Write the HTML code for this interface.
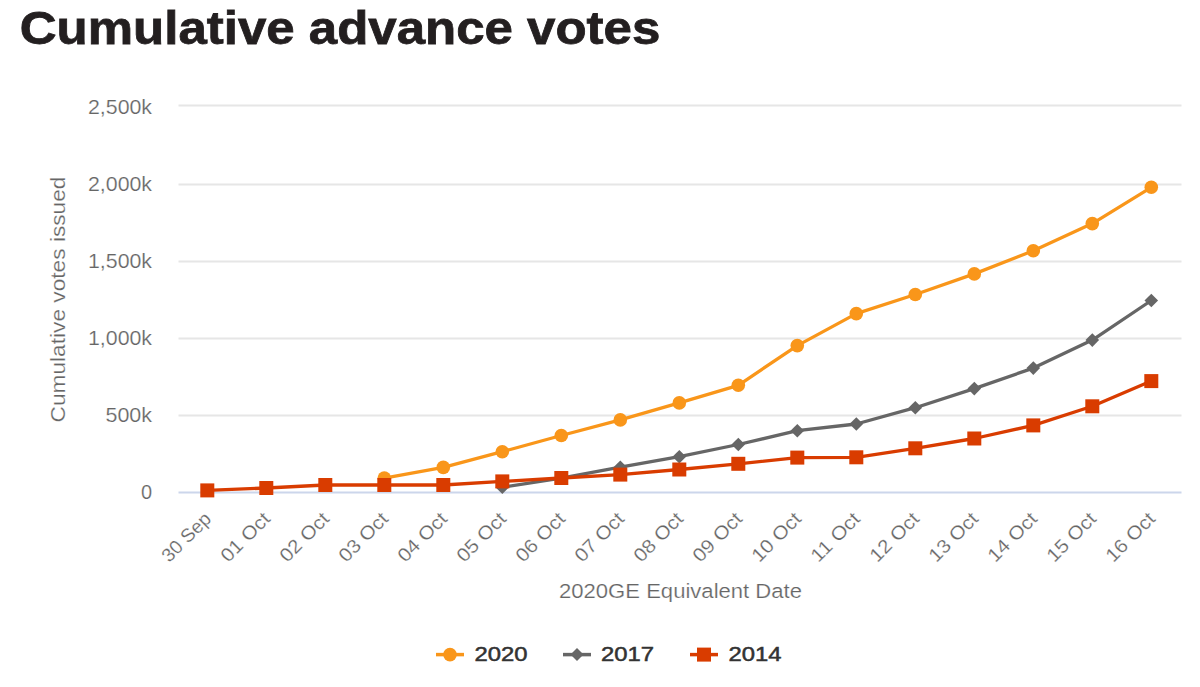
<!DOCTYPE html>
<html><head><meta charset="utf-8"><style>
html,body{margin:0;padding:0;background:#fff;width:1200px;height:687px;overflow:hidden}
svg{position:absolute;left:0;top:0;font-family:"Liberation Sans",sans-serif}
.title{font-size:47px;font-weight:bold;fill:#231f20;stroke:#231f20;stroke-width:0.8px}
.yl{font-size:20px;fill:#666;stroke:#fff;stroke-width:0.2px}
.xl{font-size:19px;fill:#666;stroke:#fff;stroke-width:0.2px}
.at{font-size:20px;fill:#666;stroke:#fff;stroke-width:0.2px}
.lg{font-size:20px;fill:#333;stroke:#333;stroke-width:0.5px}
</style></head><body>
<svg width="1200" height="687" viewBox="0 0 1200 687">
<text x="19.8" y="44" class="title" textLength="640.5" lengthAdjust="spacingAndGlyphs">Cumulative advance votes</text>
<path d="M178.5 105.5H1181.5" stroke="#e6e6e6" stroke-width="2"/>
<path d="M178.5 184.5H1181.5" stroke="#e6e6e6" stroke-width="2"/>
<path d="M178.5 261.5H1181.5" stroke="#e6e6e6" stroke-width="2"/>
<path d="M178.5 338.5H1181.5" stroke="#e6e6e6" stroke-width="2"/>
<path d="M178.5 415.5H1181.5" stroke="#e6e6e6" stroke-width="2"/>
<path d="M178.5 492.5H1181.5" stroke="#ccd6eb" stroke-width="2"/>
<text x="152" y="114" text-anchor="end" class="yl" textLength="64" lengthAdjust="spacingAndGlyphs">2,500k</text>
<text x="152" y="191" text-anchor="end" class="yl" textLength="64" lengthAdjust="spacingAndGlyphs">2,000k</text>
<text x="152" y="268" text-anchor="end" class="yl" textLength="64" lengthAdjust="spacingAndGlyphs">1,500k</text>
<text x="152" y="345" text-anchor="end" class="yl" textLength="64" lengthAdjust="spacingAndGlyphs">1,000k</text>
<text x="152" y="422" text-anchor="end" class="yl" textLength="46.5" lengthAdjust="spacingAndGlyphs">500k</text>
<text x="152" y="499" text-anchor="end" class="yl">0</text>
<text transform="translate(64.5 299.5) rotate(-90)" text-anchor="middle" class="at" textLength="246" lengthAdjust="spacingAndGlyphs">Cumulative votes issued</text>
<text transform="translate(212.3 520) rotate(-45)" text-anchor="end" class="xl" textLength="61" lengthAdjust="spacingAndGlyphs">30 Sep</text>
<text transform="translate(271.3 520) rotate(-45)" text-anchor="end" class="xl" textLength="61" lengthAdjust="spacingAndGlyphs">01 Oct</text>
<text transform="translate(330.3 520) rotate(-45)" text-anchor="end" class="xl" textLength="61" lengthAdjust="spacingAndGlyphs">02 Oct</text>
<text transform="translate(389.3 520) rotate(-45)" text-anchor="end" class="xl" textLength="61" lengthAdjust="spacingAndGlyphs">03 Oct</text>
<text transform="translate(448.3 520) rotate(-45)" text-anchor="end" class="xl" textLength="61" lengthAdjust="spacingAndGlyphs">04 Oct</text>
<text transform="translate(507.3 520) rotate(-45)" text-anchor="end" class="xl" textLength="61" lengthAdjust="spacingAndGlyphs">05 Oct</text>
<text transform="translate(566.3 520) rotate(-45)" text-anchor="end" class="xl" textLength="61" lengthAdjust="spacingAndGlyphs">06 Oct</text>
<text transform="translate(625.3 520) rotate(-45)" text-anchor="end" class="xl" textLength="61" lengthAdjust="spacingAndGlyphs">07 Oct</text>
<text transform="translate(684.3 520) rotate(-45)" text-anchor="end" class="xl" textLength="61" lengthAdjust="spacingAndGlyphs">08 Oct</text>
<text transform="translate(743.3 520) rotate(-45)" text-anchor="end" class="xl" textLength="61" lengthAdjust="spacingAndGlyphs">09 Oct</text>
<text transform="translate(802.3 520) rotate(-45)" text-anchor="end" class="xl" textLength="61" lengthAdjust="spacingAndGlyphs">10 Oct</text>
<text transform="translate(861.3 520) rotate(-45)" text-anchor="end" class="xl" textLength="61" lengthAdjust="spacingAndGlyphs">11 Oct</text>
<text transform="translate(920.3 520) rotate(-45)" text-anchor="end" class="xl" textLength="61" lengthAdjust="spacingAndGlyphs">12 Oct</text>
<text transform="translate(979.3 520) rotate(-45)" text-anchor="end" class="xl" textLength="61" lengthAdjust="spacingAndGlyphs">13 Oct</text>
<text transform="translate(1038.3 520) rotate(-45)" text-anchor="end" class="xl" textLength="61" lengthAdjust="spacingAndGlyphs">14 Oct</text>
<text transform="translate(1097.3 520) rotate(-45)" text-anchor="end" class="xl" textLength="61" lengthAdjust="spacingAndGlyphs">15 Oct</text>
<text transform="translate(1156.3 520) rotate(-45)" text-anchor="end" class="xl" textLength="61" lengthAdjust="spacingAndGlyphs">16 Oct</text>
<text x="680.5" y="597.8" text-anchor="middle" class="at" textLength="243" lengthAdjust="spacingAndGlyphs">2020GE Equivalent Date</text>
<polyline points="502.3,487.2 561.3,478.2 620.3,467.2 679.3,456.7 738.3,444.5 797.3,430.7 856.3,424.0 915.3,407.7 974.3,388.6 1033.3,368.1 1092.3,340.1 1151.3,300.5" fill="none" stroke="#666666" stroke-width="3.3" stroke-linejoin="round" stroke-linecap="round"/>
<path d="M502.3 480.4L509.1 487.2L502.3 494.0L495.5 487.2Z" fill="#666666"/>
<path d="M561.3 471.4L568.1 478.2L561.3 485.0L554.5 478.2Z" fill="#666666"/>
<path d="M620.3 460.4L627.1 467.2L620.3 474.0L613.5 467.2Z" fill="#666666"/>
<path d="M679.3 449.9L686.1 456.7L679.3 463.5L672.5 456.7Z" fill="#666666"/>
<path d="M738.3 437.7L745.1 444.5L738.3 451.3L731.5 444.5Z" fill="#666666"/>
<path d="M797.3 423.9L804.1 430.7L797.3 437.5L790.5 430.7Z" fill="#666666"/>
<path d="M856.3 417.2L863.1 424.0L856.3 430.8L849.5 424.0Z" fill="#666666"/>
<path d="M915.3 400.9L922.1 407.7L915.3 414.5L908.5 407.7Z" fill="#666666"/>
<path d="M974.3 381.8L981.1 388.6L974.3 395.4L967.5 388.6Z" fill="#666666"/>
<path d="M1033.3 361.3L1040.1 368.1L1033.3 374.9L1026.5 368.1Z" fill="#666666"/>
<path d="M1092.3 333.3L1099.1 340.1L1092.3 346.9L1085.5 340.1Z" fill="#666666"/>
<path d="M1151.3 293.7L1158.1 300.5L1151.3 307.3L1144.5 300.5Z" fill="#666666"/>
<polyline points="384.3,478.1 443.3,467.4 502.3,451.7 561.3,435.5 620.3,419.9 679.3,402.9 738.3,385.3 797.3,345.6 856.3,313.6 915.3,294.5 974.3,273.9 1033.3,250.7 1092.3,223.6 1151.3,187.3" fill="none" stroke="#f9961a" stroke-width="3.3" stroke-linejoin="round" stroke-linecap="round"/>
<circle cx="384.3" cy="478.1" r="6.8" fill="#f9961a"/>
<circle cx="443.3" cy="467.4" r="6.8" fill="#f9961a"/>
<circle cx="502.3" cy="451.7" r="6.8" fill="#f9961a"/>
<circle cx="561.3" cy="435.5" r="6.8" fill="#f9961a"/>
<circle cx="620.3" cy="419.9" r="6.8" fill="#f9961a"/>
<circle cx="679.3" cy="402.9" r="6.8" fill="#f9961a"/>
<circle cx="738.3" cy="385.3" r="6.8" fill="#f9961a"/>
<circle cx="797.3" cy="345.6" r="6.8" fill="#f9961a"/>
<circle cx="856.3" cy="313.6" r="6.8" fill="#f9961a"/>
<circle cx="915.3" cy="294.5" r="6.8" fill="#f9961a"/>
<circle cx="974.3" cy="273.9" r="6.8" fill="#f9961a"/>
<circle cx="1033.3" cy="250.7" r="6.8" fill="#f9961a"/>
<circle cx="1092.3" cy="223.6" r="6.8" fill="#f9961a"/>
<circle cx="1151.3" cy="187.3" r="6.8" fill="#f9961a"/>
<polyline points="207.3,490.4 266.3,488.0 325.3,485.0 384.3,485.0 443.3,485.0 502.3,481.4 561.3,478.0 620.3,474.6 679.3,469.5 738.3,463.8 797.3,457.6 856.3,457.3 915.3,448.3 974.3,438.5 1033.3,425.4 1092.3,406.3 1151.3,381.1" fill="none" stroke="#d93c00" stroke-width="3.3" stroke-linejoin="round" stroke-linecap="round"/>
<rect x="200.3" y="483.4" width="14" height="14" fill="#d93c00"/>
<rect x="259.3" y="481.0" width="14" height="14" fill="#d93c00"/>
<rect x="318.3" y="478.0" width="14" height="14" fill="#d93c00"/>
<rect x="377.3" y="478.0" width="14" height="14" fill="#d93c00"/>
<rect x="436.3" y="478.0" width="14" height="14" fill="#d93c00"/>
<rect x="495.3" y="474.4" width="14" height="14" fill="#d93c00"/>
<rect x="554.3" y="471.0" width="14" height="14" fill="#d93c00"/>
<rect x="613.3" y="467.6" width="14" height="14" fill="#d93c00"/>
<rect x="672.3" y="462.5" width="14" height="14" fill="#d93c00"/>
<rect x="731.3" y="456.8" width="14" height="14" fill="#d93c00"/>
<rect x="790.3" y="450.6" width="14" height="14" fill="#d93c00"/>
<rect x="849.3" y="450.3" width="14" height="14" fill="#d93c00"/>
<rect x="908.3" y="441.3" width="14" height="14" fill="#d93c00"/>
<rect x="967.3" y="431.5" width="14" height="14" fill="#d93c00"/>
<rect x="1026.3" y="418.4" width="14" height="14" fill="#d93c00"/>
<rect x="1085.3" y="399.3" width="14" height="14" fill="#d93c00"/>
<rect x="1144.3" y="374.1" width="14" height="14" fill="#d93c00"/>
<path d="M436 654.6H464" stroke="#f9961a" stroke-width="3.5"/>
<circle cx="450" cy="654.6" r="6.8" fill="#f9961a"/>
<text x="474.5" y="661" class="lg" textLength="53" lengthAdjust="spacingAndGlyphs">2020</text>
<path d="M563 654.6H591" stroke="#666666" stroke-width="3.5"/>
<path d="M577 648.1L583.5 654.6L577 661.1L570.5 654.6Z" fill="#666666"/>
<text x="601" y="661" class="lg" textLength="53" lengthAdjust="spacingAndGlyphs">2017</text>
<path d="M690 654.6H718" stroke="#d93c00" stroke-width="3.5"/>
<rect x="697" y="647.6" width="14" height="14" fill="#d93c00"/>
<text x="728.5" y="661" class="lg" textLength="53" lengthAdjust="spacingAndGlyphs">2014</text>
</svg>
</body></html>
